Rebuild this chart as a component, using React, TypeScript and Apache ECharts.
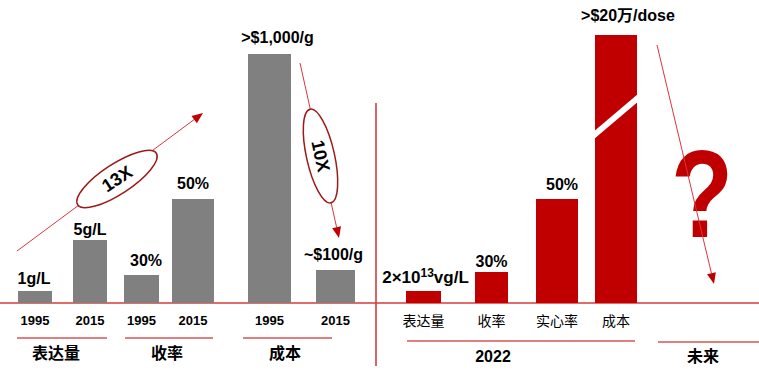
import React, { useEffect, useRef } from "react";
import * as echarts from "echarts";

// ---- data ----
const barCategories = ["1995", "2015", "1995", "2015", "1995", "2015", "表达量", "收率", "实心率", "成本"];
const barValues = [12, 63, 28, 104, 249, 33, 12, 31, 104, 268];
const valueLabels = ["1g/L", "5g/L", "30%", "50%", ">$1,000/g", "~$100/g", "2×10{sup|13}vg/L", "30%", "50%", ">$20万/dose"];
const groupLabels = ["表达量", "收率", "成本", "2022", "未来"];
const ratioLabels = ["13X", "10X"];
const questionLabel = "?";

// ---- layout (positions / sizes / styles) ----
const barCenters = [35, 90, 141.5, 193, 269.5, 335.5, 423.5, 491.5, 557, 616];
const barWidths = [34, 34, 35, 42, 43, 39, 35, 33, 42, 42];
const labelDx = [-1, 0, 4.5, 0, 8, -2, 2, 0, 5, 12];
const labelDy = [13, 11, 15, 16, 17, 16, 14, 11, 15, 20];
const labelSize = [16, 16, 16, 16, 16, 16, 17, 16, 16, 16];
const isRight = [false, false, false, false, false, false, true, true, true, true];
const breakIndex = 9;
const GRAY = "#808080";
const RED = "#c00000";
const LINE_RED = "#d8373d";
const FONT = "Arial, 'Liberation Sans', 'Noto Sans CJK SC', sans-serif";

function arrow(x1: number, y1: number, x2: number, y2: number) {
  const ang = Math.atan2(y2 - y1, x2 - x1);
  const len = 11;
  const half = 4.5;
  const bx = x2 - len * Math.cos(ang);
  const by = y2 - len * Math.sin(ang);
  const px = -Math.sin(ang) * half;
  const py = Math.cos(ang) * half;
  return [
    { type: "line", shape: { x1, y1, x2: bx, y2: by }, style: { stroke: LINE_RED, lineWidth: 1 } },
    {
      type: "polygon",
      shape: { points: [[x2, y2], [bx + px, by + py], [bx - px, by - py]] },
      style: { fill: RED },
    },
  ];
}

export default function App() {
  const ref = useRef<HTMLDivElement>(null);
  useEffect(() => {
    document.body.style.margin = "0";
    if (!ref.current) return;
    const chart = echarts.init(ref.current, undefined, { renderer: "svg" });

    const groupPos = [
      [56, 353],
      [167, 353],
      [285, 353],
      [493, 356],
      [703, 356],
    ];

    const graphics: any[] = [
      // underlines
      { type: "line", shape: { x1: 17, y1: 338, x2: 107, y2: 338 }, style: { stroke: RED, lineWidth: 1.2 } },
      { type: "line", shape: { x1: 125, y1: 338, x2: 213, y2: 338 }, style: { stroke: RED, lineWidth: 1.2 } },
      { type: "line", shape: { x1: 243, y1: 338, x2: 332, y2: 338 }, style: { stroke: RED, lineWidth: 1.2 } },
      { type: "line", shape: { x1: 407, y1: 341, x2: 635, y2: 341 }, style: { stroke: RED, lineWidth: 1.2 } },
      { type: "line", shape: { x1: 658, y1: 342, x2: 759, y2: 342 }, style: { stroke: RED, lineWidth: 1.2 } },
      // vertical divider
      { type: "line", shape: { x1: 376, y1: 103, x2: 376, y2: 366 }, style: { stroke: RED, lineWidth: 1.2 } },
      // group labels
      ...groupLabels.map((t, i) => ({
        type: "text",
        x: groupPos[i][0],
        y: groupPos[i][1],
        style: { text: t, fontSize: 16, fontWeight: "bold", fontFamily: FONT, fill: "#000", align: "center", verticalAlign: "middle" },
      })),
      // 13X arrow + ellipse
      ...arrow(17, 251, 203, 113),
      {
        type: "ellipse",
        x: 117,
        y: 179,
        rotation: 0.58,
        shape: { cx: 0, cy: 0, rx: 47, ry: 15 },
        style: { fill: "#fff", stroke: "#9e1a1a", lineWidth: 1.5 },
      },
      {
        type: "text",
        x: 117,
        y: 179,
        rotation: 0.58,
        style: { text: ratioLabels[0], fontSize: 18, fontWeight: "bold", fontFamily: FONT, fill: "#000", align: "center", verticalAlign: "middle" },
      },
      // 10X arrow + ellipse
      ...arrow(300, 63, 339, 238),
      {
        type: "ellipse",
        x: 320.5,
        y: 156,
        rotation: 0.22,
        shape: { cx: 0, cy: 0, rx: 14, ry: 48 },
        style: { fill: "#fff", stroke: "#9e1a1a", lineWidth: 1.5 },
      },
      {
        type: "text",
        x: 320.5,
        y: 156,
        rotation: -1.35,
        style: { text: ratioLabels[1], fontSize: 18, fontWeight: "bold", fontFamily: FONT, fill: "#000", align: "center", verticalAlign: "middle" },
      },
      // question mark + arrow
      {
        type: "text",
        x: 702,
        y: 132,
        scaleX: 0.82,
        style: { text: questionLabel, fontSize: 124, fontWeight: "bold", fontFamily: FONT, fill: RED, align: "center", verticalAlign: "top" },
      },
      ...arrow(657, 45, 714, 284),
    ];

    chart.setOption({
      animation: false,
      grid: { left: 0, right: 0, top: 0, bottom: 72 },
      xAxis: {
        type: "value",
        min: 0,
        max: 759,
        splitLine: { show: false },
        axisLabel: { show: false },
        axisTick: { show: false },
        axisLine: { show: true, onZero: false, lineStyle: { color: "#d83a3a", width: 1.5 } },
      },
      yAxis: {
        type: "value",
        min: 0,
        max: 303,
        show: false,
        splitLine: { show: false },
      },
      graphic: { elements: graphics },
      series: [
        {
          type: "custom",
          z: 1,
          data: barValues.map((v, i) => [i, v]),
          renderItem: (params: any, api: any) => {
            const i = api.value(0);
            const v = api.value(1);
            const top = api.coord([barCenters[i], v]);
            const base = api.coord([barCenters[i], 0]);
            const w = api.size([barWidths[i], 0])[0];
            const x0 = top[0] - w / 2;
            const children: any[] = [
              {
                type: "rect",
                shape: { x: x0, y: top[1], width: w, height: base[1] - top[1] },
                style: { fill: isRight[i] ? RED : GRAY },
              },
              {
                type: "text",
                x: top[0] + labelDx[i],
                y: top[1] - labelDy[i],
                style: {
                  text: valueLabels[i],
                  fontSize: labelSize[i],
                  fontWeight: "bold",
                  fontFamily: FONT,
                  fill: "#000",
                  align: "center",
                  verticalAlign: "middle",
                  rich: {
                    sup: { fontSize: 12, fontWeight: "bold", fontFamily: FONT, fill: "#000", padding: [0, 0, 9, 0] },
                  },
                },
              },
              {
                type: "text",
                x: base[0],
                y: base[1] + (isRight[i] ? 18 : 17),
                style: {
                  text: barCategories[i],
                  fontSize: isRight[i] ? 14 : 13,
                  fontWeight: isRight[i] ? "normal" : "bold",
                  fontFamily: FONT,
                  fill: "#000",
                  align: "center",
                  verticalAlign: "middle",
                },
              },
            ];
            if (i === breakIndex) {
              children.push({
                type: "line",
                shape: { x1: x0 - 2, y1: top[1] + 101, x2: x0 + w + 2, y2: top[1] + 62 },
                style: { stroke: "#fff", lineWidth: 6 },
              });
            }
            return { type: "group", children };
          },
        },
      ],
    });
    return () => chart.dispose();
  }, []);
  return <div ref={ref} style={{ width: 759, height: 375 }} />;
}
